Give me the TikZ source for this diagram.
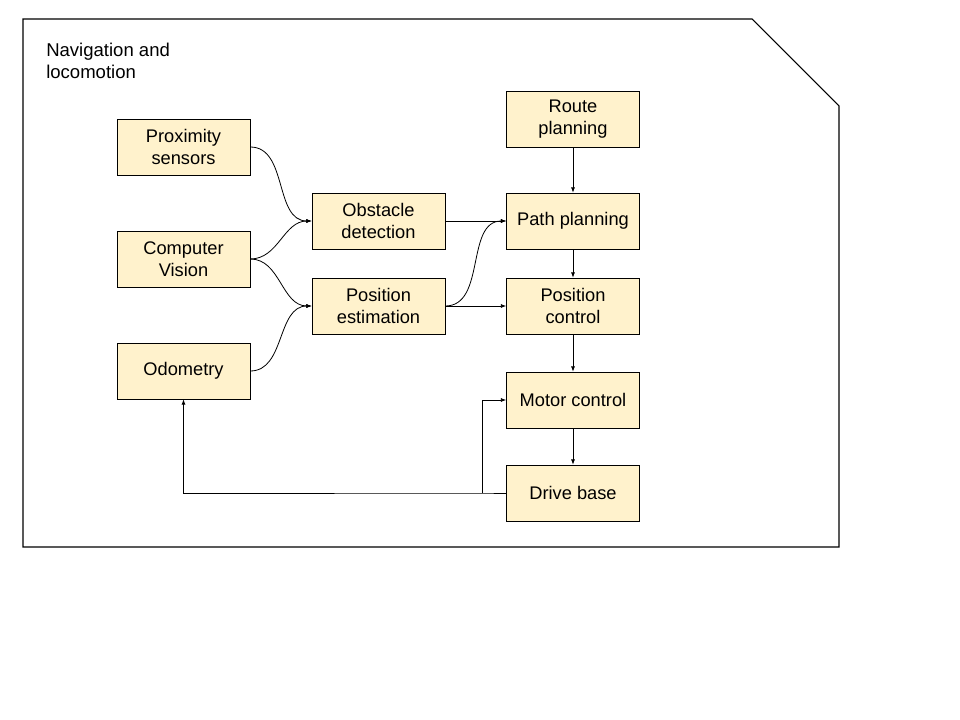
\documentclass[tikz,border=0pt]{standalone}
\usepackage{fontspec}
\setmainfont{Liberation Sans}
\usepackage{xcolor}
\usepackage{tikz}
\usetikzlibrary{arrows.meta, positioning}
\definecolor{boxfill}{HTML}{FFF2CC}
\tikzset{
  block/.style={draw, fill=boxfill, minimum width=133*0.75pt, minimum height=56*0.75pt,
    align=center, inner sep=0pt, font=\fontsize{13.7}{16.5}\selectfont},
  link/.style={-{Latex[length=4pt,width=3pt]}, line width=0.6pt}
}
\begin{document}
\begin{tikzpicture}[x=0.75pt,y=-0.75pt]
\useasboundingbox (0,0) rectangle (960,720);
\draw[line width=0.8pt] (23,19) -- (752,19) -- (839,106) -- (839,547) -- (23,547) -- cycle;
\node[anchor=north west, align=left, inner sep=0pt, font=\fontsize{13.9}{16.5}\selectfont] (title) at (46,43) {Navigation and\\locomotion};
% sensors
\node[block] (prox) at (183.5,147) {Proximity\\sensors};
\node[block] (vision) at (183.5,259) {Computer\\Vision};
\node[block] (odo) at (183.5,371) {Odometry};
% processing
\node[block] (obst) at (378.5,221) {Obstacle\\detection};
\node[block] (est) at (378.5,306) {Position\\estimation};
% planning and control
\node[block] (route) at (573,119) {Route\\planning};
\node[block] (path) at (573,221) {Path planning};
\node[block] (posctl) at (573,306) {Position\\control};
\node[block] (motor) at (573,400) {Motor control};
\node[block] (drive) at (573,493) {Drive base};
\draw[link] (prox.east) to[out=0,in=180] (obst.west);
\draw[link] (vision.east) to[out=0,in=180] (obst.west);
\draw[link] (vision.east) to[out=0,in=180] (est.west);
\draw[link] (odo.east) to[out=0,in=180] (est.west);
\draw[link] (obst.east) -- (path.west);
\draw[link] (est.east) to[out=0,in=180] (path.west);
\draw[link] (est.east) -- (posctl.west);
\draw[link] (route) -- (path);
\draw[link] (path) -- (posctl);
\draw[link] (posctl) -- (motor);
\draw[link] (motor) -- (drive);
\coordinate (split) at (482,493);
\draw[link] (drive.west) -- (split) -| (odo.south);
\draw[link] (split) |- (motor.west);
\end{tikzpicture}
\end{document}
